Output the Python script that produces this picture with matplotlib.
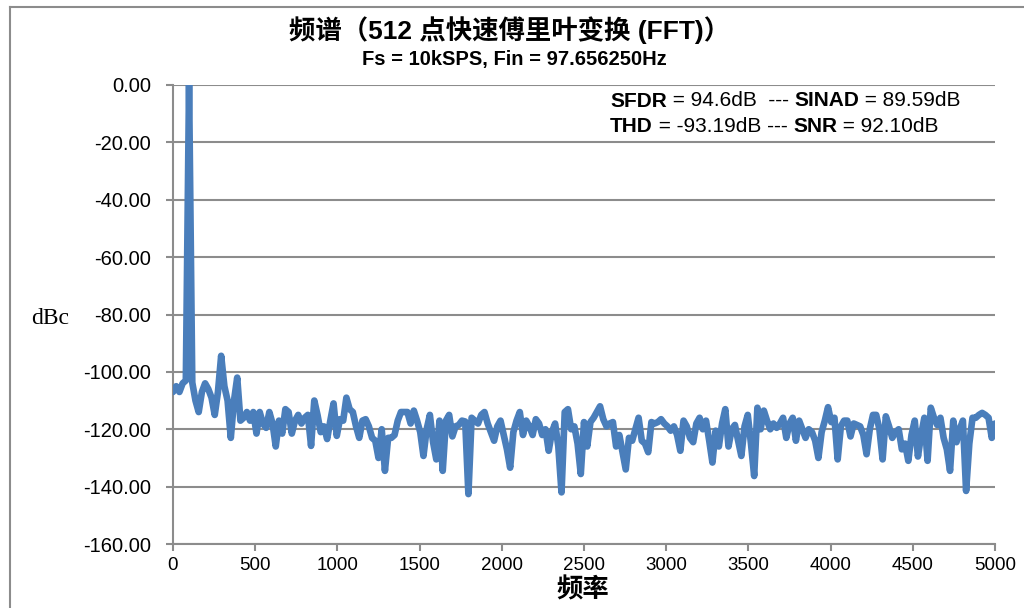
import numpy as np
import matplotlib
matplotlib.use("Agg")
import matplotlib.pyplot as plt
from matplotlib.lines import Line2D

# FFT spectrum: 512-point FFT, Fs = 10 kSPS -> 257 bins from 0 to 5000 Hz
fs = 10000.0
n_fft = 512
bin_index = np.arange(257)
freq_hz = bin_index * fs / n_fft

magnitude_dbc = [
    -107, -105, -107, -104, -103, 0, -103.7, -110, -114, -107,
    -104, -106, -109, -115, -107, -94.4, -105, -110, -123, -110,
    -102, -117, -116, -114, -117, -114, -121.5, -114, -118, -119.5,
    -114, -118, -126, -117, -121.5, -113, -114, -121.5, -117, -115,
    -118, -116, -115, -125.8, -110, -115, -121, -119, -123.4, -117,
    -111, -122.3, -116.5, -117, -109, -113, -114, -119, -123, -117,
    -116.5, -119, -123, -124, -130, -120, -134.5, -123, -123, -122,
    -117, -114, -114, -114, -118, -113.5, -117, -121, -129.3, -120,
    -115, -124.5, -130.5, -117, -134.5, -117, -115, -122.5, -119, -118.5,
    -117, -117.3, -142.6, -116, -117, -118, -115, -114, -118, -121,
    -124, -119, -117, -122, -127, -133.4, -121, -117, -114, -122,
    -117, -119, -122, -116.5, -118, -122, -120, -127.5, -121, -118,
    -126, -142, -114, -113, -120, -119, -125, -135.6, -117.5, -126,
    -117.5, -116, -114, -112, -116.5, -119, -118, -117.5, -126, -122,
    -128, -134, -123, -124, -120, -116, -124, -125, -128, -117.5,
    -118, -117.5, -116.5, -118, -119, -120.5, -119, -122, -127.5, -117,
    -119, -123, -124.5, -118, -116, -120, -117, -124, -131.6, -120.5,
    -126, -118, -113, -126, -120, -118.5, -124, -129.3, -119, -115,
    -125, -136.3, -112.5, -120, -113.5, -117, -120, -118, -119.5, -118,
    -116, -123, -118, -116, -124, -117, -120, -123, -120, -121,
    -124, -130, -121, -117, -112.3, -117.5, -116, -130.5, -119, -117,
    -117, -122.5, -118, -118.5, -119, -122, -128.7, -120, -115, -115,
    -120, -130.5, -115.5, -119, -123, -121, -120, -127, -125, -131,
    -122, -117, -129.5, -122, -116, -131, -112.5, -116, -118.5, -116,
    -123, -127, -134.5, -117, -124.5, -120, -117, -141.5, -125, -116,
    -116, -115, -114.3, -115, -116, -123, -118,
]

x_ticks = [0, 500, 1000, 1500, 2000, 2500, 3000, 3500, 4000, 4500, 5000]
y_ticks = [0, -20, -40, -60, -80, -100, -120, -140, -160]

title_text = "频谱（512 点快速傅里叶变换 (FFT)）"
subtitle_text = "Fs = 10kSPS, Fin = 97.656250Hz"
x_label = "频率"
y_label = "dBc"
stats_lines = [
    [("SFDR", True), (" = 94.6dB  --- ", False), ("SINAD", True), (" = 89.59dB", False)],
    [("THD", True), (" = -93.19dB --- ", False), ("SNR", True), (" = 92.10dB", False)],
]

latin_cjk = ["Liberation Sans", "Noto Sans CJK SC", "DejaVu Sans"]
plt.rcParams["font.family"] = latin_cjk

grid_gray = "#8c8c8c"
line_blue = "#4a7ebb"

fig = plt.figure(figsize=(10.24, 6.08), dpi=100)
ax = fig.add_axes([173 / 1024, 1 - 544 / 608, (995 - 173) / 1024, (544 - 85) / 608])

ax.plot(freq_hz, magnitude_dbc, color=line_blue, linewidth=4.8,
        solid_joinstyle="round", solid_capstyle="round", zorder=3)

ax.set_xlim(0, 5000)
ax.set_ylim(-160, 0)
ax.set_xticks(x_ticks)
ax.set_yticks(y_ticks)
ax.set_yticklabels([f"{v:.2f}" for v in y_ticks])
ax.tick_params(axis="both", colors=grid_gray, labelcolor="black",
               length=5, width=1.5, direction="out")
ax.tick_params(axis="x", labelsize=13.5, pad=4)
ax.tick_params(axis="y", labelsize=14.5, pad=11)

ax.yaxis.grid(True, color=grid_gray, linewidth=1.5)
ax.set_axisbelow(True)
for side in ("top", "right"):
    ax.spines[side].set_visible(False)
for side in ("left", "bottom"):
    ax.spines[side].set_color(grid_gray)
    ax.spines[side].set_linewidth(1.5)

# titles
fig.text(510 / 1024, 1 - 30 / 608, title_text, ha="center", va="center",
         fontsize=19, fontweight="bold", family=latin_cjk)
fig.text(514 / 1024, 1 - 59 / 608, subtitle_text, ha="center", va="center",
         fontsize=14.5, fontweight="bold", family=latin_cjk)

# axis labels
fig.text(50 / 1024, 1 - 318 / 608, y_label, ha="center", va="center",
         fontsize=17, family=["Liberation Serif", "DejaVu Serif"])
fig.text(583 / 1024, 1 - 590 / 608, x_label, ha="center", va="center",
         fontsize=19, fontweight="bold", family=["Noto Sans CJK SC", "DejaVu Sans"])

# measured statistics, with bold parameter names
for row, (pieces, y_px) in enumerate(zip(stats_lines, (101, 126))):
    prev = None
    for text, bold in pieces:
        kw = dict(fontsize=15, fontweight="bold" if bold else "normal",
                  va="center", ha="left", family=latin_cjk)
        if prev is None:
            prev = fig.text(610 / 1024, 1 - y_px / 608, text, **kw)
        else:
            prev = ax.annotate(text, xy=(1, 0.5), xycoords=prev,
                               xytext=(0, 0), textcoords="offset points",
                               annotation_clip=False, **kw)

# chart frame edges
fig.add_artist(Line2D([10 / 1024, 10 / 1024], [0, 1 - 7 / 608],
                      transform=fig.transFigure, color=grid_gray, linewidth=1.5))
fig.add_artist(Line2D([10 / 1024, 1], [1 - 7 / 608, 1 - 7 / 608],
                      transform=fig.transFigure, color=grid_gray, linewidth=1.5))

fig.savefig("out.png", dpi=100)
